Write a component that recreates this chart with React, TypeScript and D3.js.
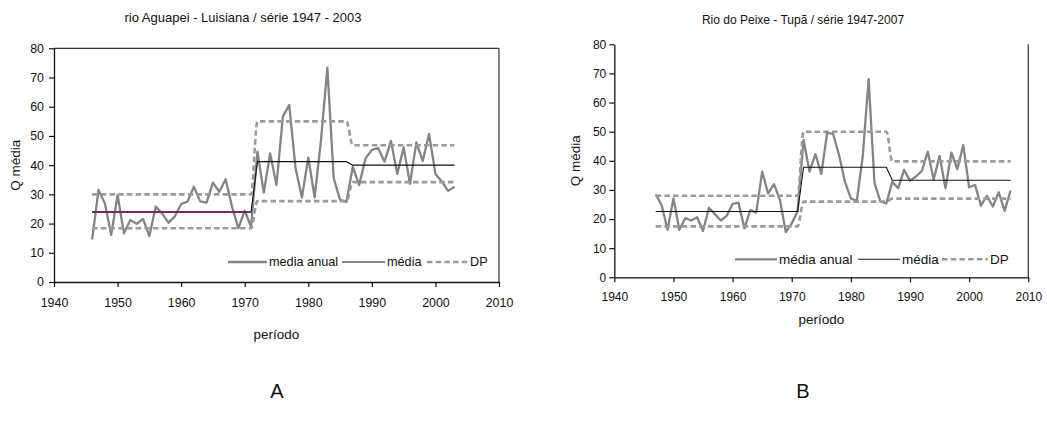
import React, { useEffect, useRef } from "react";
import * as d3 from "d3";

// chart A - rio Aguapei, annual mean flow from 1946
const startYearA = 1946;
const annualA = [
  14.6, 31.5, 27, 16.1, 29.8, 16.7, 21.2, 19.9, 21.6, 15.7,
  25.8, 23.5, 20.3, 22.4, 26.7, 27.5, 32.6, 27.6, 27.2, 34.0,
  30.9, 35.2, 25.8, 18.4, 24.4, 18.9, 44.6, 30.6, 44, 33.2,
  56.6, 60.6, 38.9, 28.9, 42.6, 29, 48.6, 73.4, 35.5, 28.1,
  27.4, 39.5, 33.2, 42.3, 45.2, 45.8, 41.2, 48.3, 37, 46.1,
  33.6, 47.8, 41.4, 50.7, 37, 34.4, 31.2, 32.6,
];
const periodsA = [[1946, 1971], [1972, 1986], [1987, 2003]];
const mediaA = [24, 41.2, 40];
const dpUpperA = [30, 55, 46.8];
const dpLowerA = [18.4, 27.7, 34.2];

// chart B - Rio do Peixe, annual mean flow from 1947
const startYearB = 1947;
const annualB = [
  28.5, 24.8, 16.3, 27.1, 16.3, 20.3, 19.5, 20.6, 15.9, 23.9,
  21.7, 19.5, 21.1, 25.2, 25.6, 16.8, 23.1, 22.2, 36.3, 28.8,
  32, 26.6, 15.5, 18.5, 22.8, 47.2, 36.3, 42.3, 35.5, 49.7,
  49.2, 42, 32.8, 27.1, 26.2, 41.4, 68, 32.3, 26, 25.4,
  32.8, 30.6, 36.9, 33.2, 34.6, 36.5, 43.1, 33.6, 41.7, 30.6,
  42.8, 37.1, 45.4, 30.9, 31.7, 24.6, 28, 24.3, 29.2, 22.8,
  29.8,
];
const periodsB = [[1947, 1971], [1972, 1986], [1987, 2007]];
const mediaB = [22.6, 37.8, 33.3];
const dpUpperB = [28, 50, 39.8];
const dpLowerB = [17.5, 26, 27];

const xTicks = [1940, 1950, 1960, 1970, 1980, 1990, 2000, 2010];
const yTicks = [0, 10, 20, 30, 40, 50, 60, 70, 80];

const legendA = ["media anual", "média", "DP"];
const legendB = ["média anual", "média", "DP"];

const FONT = "'Liberation Sans', Arial, sans-serif";
const GRAY = "#848484";
const DP_GRAY = "#9a9a9a";

function stepPoints(periods, vals) {
  const pts = [];
  periods.forEach((p, i) => {
    pts.push([p[0], vals[i]]);
    pts.push([p[1], vals[i]]);
  });
  return pts;
}

function drawChart(svg, cfg) {
  const x = d3.scaleLinear().domain([1940, 2010]).range([cfg.left, cfg.right]);
  const y = d3.scaleLinear().domain([0, 80]).range([cfg.bottom, cfg.top]);
  const g = svg.append("g");

  // plot frame (B has no top edge)
  if (cfg.topBorder) {
    g.append("line").attr("x1", cfg.left).attr("x2", cfg.right).attr("y1", cfg.top).attr("y2", cfg.top)
      .attr("stroke", "#333").attr("stroke-width", 1.2);
  }
  g.append("line").attr("x1", cfg.right).attr("x2", cfg.right).attr("y1", cfg.top).attr("y2", cfg.bottom)
    .attr("stroke", "#333").attr("stroke-width", 1.2);

  const yAxis = g.append("g")
    .attr("transform", `translate(${cfg.left},0)`)
    .call(d3.axisLeft(y).tickValues(yTicks).tickSize(5).tickSizeOuter(0).tickPadding(cfg.yPad));
  const xAxis = g.append("g")
    .attr("transform", `translate(0,${cfg.bottom})`)
    .call(d3.axisBottom(x).tickValues(xTicks).tickFormat(d3.format("d")).tickSize(5).tickSizeOuter(0).tickPadding(cfg.xPad));

  [yAxis, xAxis].forEach(a => {
    a.select(".domain").attr("stroke", "#111").attr("stroke-width", 1.3);
    a.selectAll(".tick line").attr("stroke", "#111").attr("stroke-width", 1.2);
    a.selectAll("text").attr("font-family", FONT).attr("font-size", cfg.tickFont).attr("fill", "#111");
  });

  const line = d3.line().x(d => x(d[0])).y(d => y(d[1]));

  // annual series
  const annualPts = cfg.annual.map((v, i) => [cfg.start + i, v]);
  g.append("path").attr("d", line(annualPts))
    .attr("fill", "none").attr("stroke", GRAY).attr("stroke-width", 2.3)
    .attr("stroke-linejoin", "round");

  // period mean
  g.append("path").attr("d", line(stepPoints(cfg.periods, cfg.media)))
    .attr("fill", "none").attr("stroke", "#111").attr("stroke-width", 1.1);
  if (cfg.firstColor) {
    g.append("path").attr("d", line(stepPoints(cfg.periods.slice(0, 1), cfg.media.slice(0, 1))))
      .attr("fill", "none").attr("stroke", cfg.firstColor).attr("stroke-width", 2);
  }

  // standard deviation bands
  const smooth = d3.line().x(d => x(d[0])).y(d => y(d[1])).curve(d3.curveMonotoneX);
  [cfg.dpUp, cfg.dpLow].forEach(vals => {
    g.append("path").attr("d", smooth(stepPoints(cfg.periods, vals)))
      .attr("fill", "none").attr("stroke", DP_GRAY).attr("stroke-width", 2.6)
      .attr("stroke-dasharray", "5.5,3.2");
  });

  // legend
  const styles = [
    { stroke: GRAY, width: 2.3, dash: null },
    { stroke: "#111", width: 1.1, dash: null },
    { stroke: DP_GRAY, width: 2.6, dash: "5.5,3.2" },
  ];
  cfg.legend.forEach((lab, i) => {
    const pos = cfg.legendPos[i];
    g.append("line").attr("x1", pos[0]).attr("x2", pos[1])
      .attr("y1", cfg.legendY).attr("y2", cfg.legendY)
      .attr("stroke", styles[i].stroke).attr("stroke-width", styles[i].width)
      .attr("stroke-dasharray", styles[i].dash);
    g.append("text").attr("x", pos[1] + 2).attr("y", cfg.legendY).attr("dy", "0.35em")
      .attr("font-family", FONT).attr("font-size", cfg.legendFont).attr("fill", "#111")
      .text(lab);
  });

  // titles
  g.append("text").attr("x", cfg.titleX).attr("y", cfg.titleY).attr("text-anchor", "middle")
    .attr("font-family", FONT).attr("font-size", cfg.titleFont).attr("fill", "#111").text(cfg.title);
  g.append("text")
    .attr("transform", `translate(${cfg.yLabelX},${(cfg.top + cfg.bottom) / 2}) rotate(-90)`)
    .attr("text-anchor", "middle").attr("dy", "0.35em")
    .attr("font-family", FONT).attr("font-size", cfg.labelFont).attr("fill", "#111").text("Q média");
  g.append("text").attr("x", (cfg.left + cfg.right) / 2).attr("y", cfg.xLabelY)
    .attr("text-anchor", "middle").attr("dy", "0.35em")
    .attr("font-family", FONT).attr("font-size", cfg.labelFont).attr("fill", "#111").text("período");
  g.append("text").attr("x", cfg.letterX).attr("y", 391).attr("text-anchor", "middle").attr("dy", "0.35em")
    .attr("font-family", FONT).attr("font-size", 20).attr("fill", "#111").text(cfg.letter);
}

export default function App() {
  const ref = useRef(null);

  useEffect(() => {
    const svg = d3.select(ref.current);
    svg.selectAll("*").remove();

    drawChart(svg, {
      left: 54, right: 499, top: 48.3, bottom: 282, topBorder: true,
      start: startYearA, annual: annualA, periods: periodsA,
      media: mediaA, dpUp: dpUpperA, dpLow: dpLowerA, firstColor: "#6e2a70",
      yPad: 5, xPad: 11, tickFont: 12.4, legendFont: 12.7, titleFont: 13, labelFont: 13.5,
      legend: legendA, legendPos: [[228, 267], [342, 385], [427, 468]], legendY: 262,
      title: "rio Aguapei - Luisiana / série 1947 - 2003", titleX: 243, titleY: 22,
      yLabelX: 15, xLabelY: 334, letter: "A", letterX: 277,
    });

    drawChart(svg, {
      left: 614.3, right: 1028.3, top: 44.3, bottom: 277.3, topBorder: false,
      start: startYearB, annual: annualB, periods: periodsB,
      media: mediaB, dpUp: dpUpperB, dpLow: dpLowerB, firstColor: null,
      yPad: 3, xPad: 10, tickFont: 12, legendFont: 13.5, titleFont: 12, labelFont: 13.5,
      legend: legendB, legendPos: [[735, 777], [858, 900], [942, 988]], legendY: 259.3,
      title: "Rio do Peixe - Tupã / série 1947-2007", titleX: 803, titleY: 24,
      yLabelX: 575, xLabelY: 319, letter: "B", letterX: 803,
    });
  }, []);

  return (
    <svg ref={ref} width={1047} height={426}
      style={{ position: "absolute", left: 0, top: 0, background: "#fff" }} />
  );
}
